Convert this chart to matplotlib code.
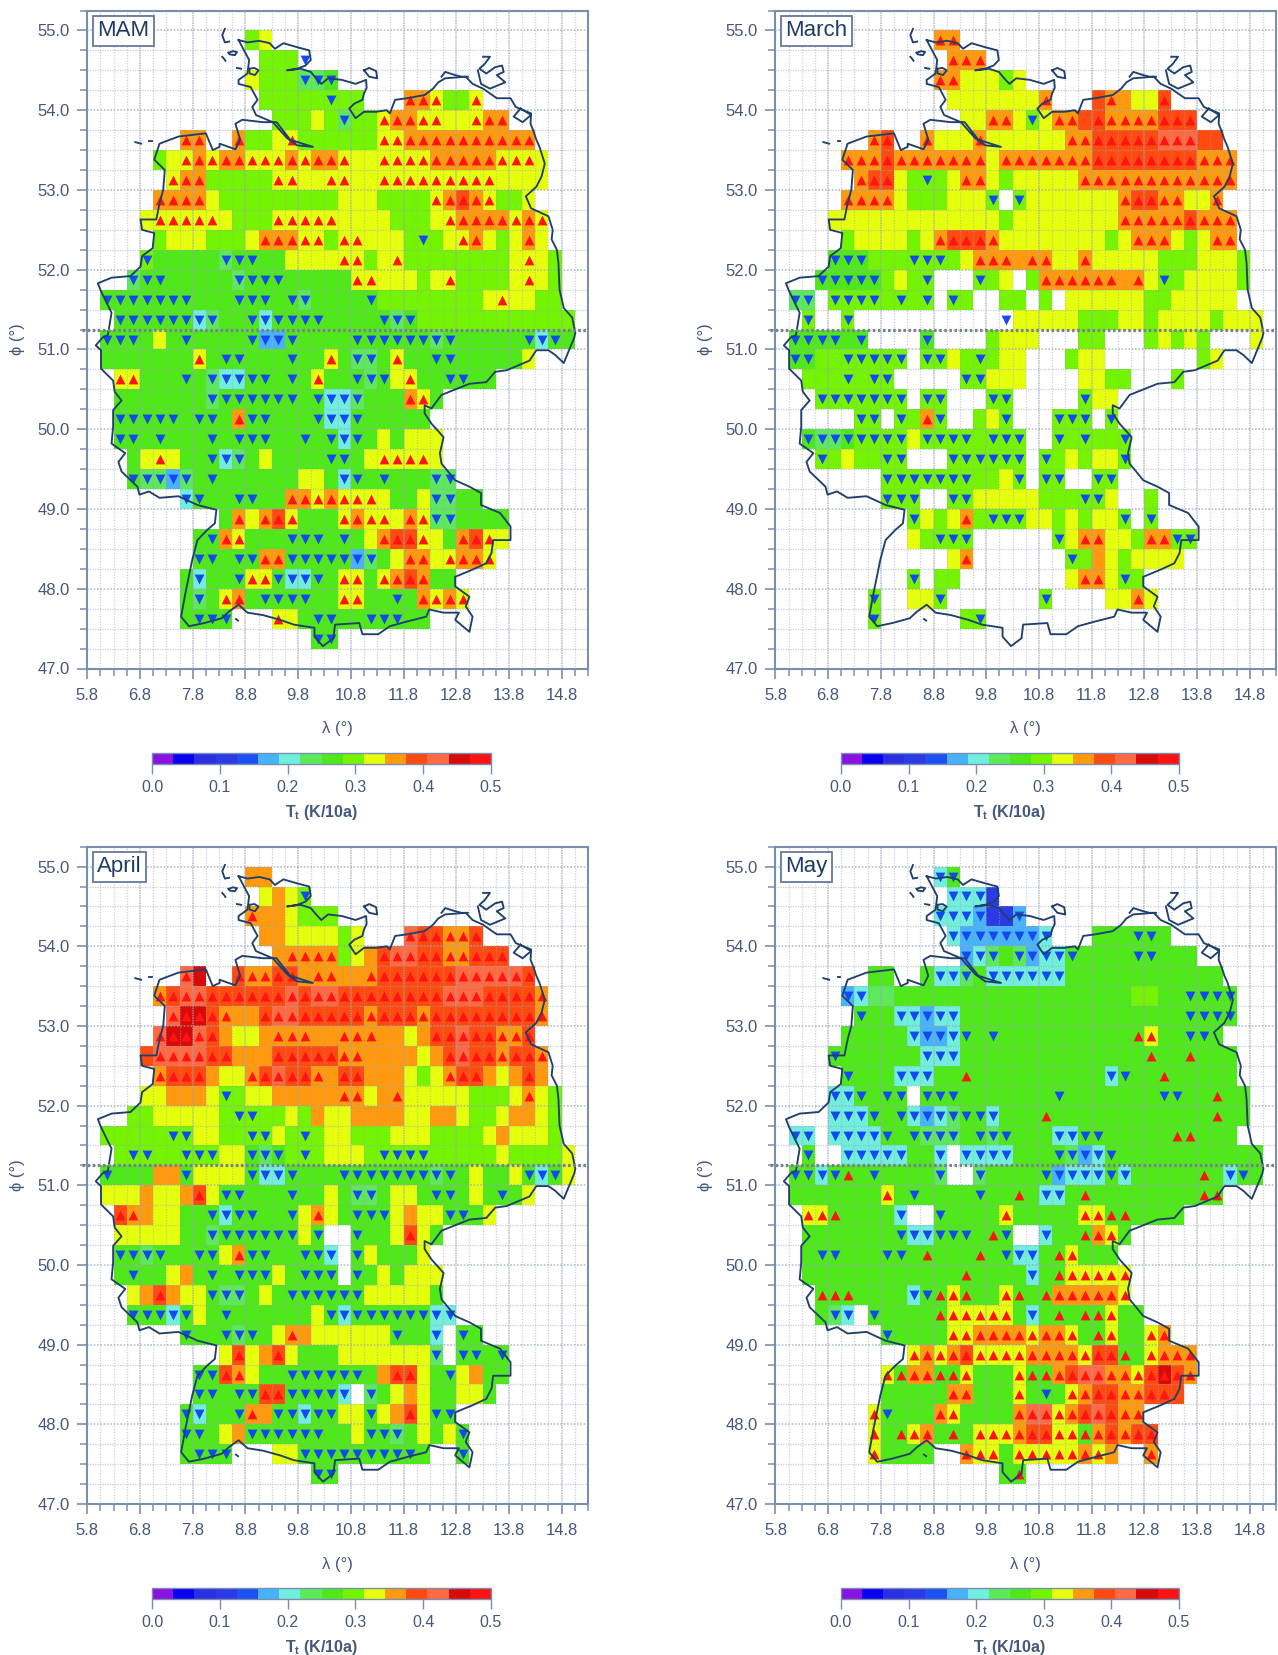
# -*- coding: utf-8 -*-
# spring temperature trends on a 0.25 degree grid, four panels
import numpy as np
import matplotlib
matplotlib.use("Agg")
import matplotlib.pyplot as plt
from matplotlib.colors import ListedColormap, BoundaryNorm
from matplotlib.cm import ScalarMappable

plt.rcParams['font.family'] = ['Liberation Sans', 'DejaVu Sans']
plt.rcParams['mathtext.fontset'] = 'custom'
plt.rcParams['mathtext.bf'] = 'Liberation Sans:bold'
plt.rcParams['mathtext.rm'] = 'Liberation Sans'

# each cell is one hex digit (colour class, 0..f), '.' is empty,
# a following ^ or v is the significance triangle of that cell.
# first = column of the first cell, rows run north to south from 55.0
mam_first = [12, 13, 12, 13, 14, 7, 5, 6, 5, 4, 5, 4, 3, 1, 2, 1, 1, 2, 2, 2, 2, 3, 3, 7, 10, 8, 8, 7, 7, 7, 17]
mam_rows = [
    "9a", "999.v", "a9997v7v8v", "999999v99...b^b^a^99a^", "999a97v99a^b^b^a^a^aaa^b^b^",
    "b^b^..b^99aa^999999a^a^b^b^b^b^b^b^b^b^b^b^",
    "9aa^b^a^b^b^a^a^a^b^a^b^b^a^aaa^a^a^a^b^b^b^b^b^a^a^a^a",
    "a^b^b^99999a^a^aaa^a^aaa^a^a^a^a^a^a^a^a^aaaa",
    "b^b^b^b^a999999999aaa9999a^b^c^b^a^99a",
    "aa^a^a^a^a^a999a^a^a^a^a^aaaa999aa^b^b^b^b^a^b^a^",
    "9aaa999ab^b^b^a^a^9a^a^aaa99v9aa^b^a9ab^a",
    "9v888887v8v8v88aaaaa^a^9aa^99999999aa^a9",
    "7v8v8v888887v8v8v8v88888a^a^aaa9aa^9999aa^a9",
    "8v8v8v8v8v8v8v8888v8v8v88v7v88888v99999999aa^aa99",
    "8v8v8v8v8v8v6v7v888v6v8v8v8v8v88888v7v8v999999999999",
    "8v8v8v8a88v88888v5v5v8v88888v8v8v8v8v8v7v8v888888v6v8v8",
    "8888888a^88v8v8888v88a^87v7v8a^888v8v88888a",
    "a^a^8888v87v6v6v8v8v88v8a^888v7v8vaa^888v8v88",
    "88888887v8v8v8v8v8v8v88v6v6v7v888b^a^8",
    "8v8v8v8v8v88v8v8b^8v8v8888v6v6v8v88888",
    "8v8v88v8888v88v8v8v888v88v6v8v8a8aaa",
    "8aa^a888v6v7v8a88888v8v8aa^a^a^a^a",
    "8v7v7v5v7v88v888888aa86v8v88v8887v7v",
    "6v8v888v8v88b^b^a^b^a^a^a^a88a7v7v88",
    "8b^ab^c^a^888a^b^a^a^ab^a^7v7v8888",
    "88vb^a^8888v8v8v88v8ab^c^c^a^a8b^c^a^a",
    "8v8v88v8vb^b^8v8v8v8v8v5v7v8ab^b^aa^b^b^a^",
    "86v888va^a^8v6v6v8v8a^a^8a^b^c^b^88",
    "87v8a^b^88v8v8v8v88a^a^888v8b^a^b^a^",
    "88v8v8v...a^a88v8v888v8v8v88",
    "8v8v",
]

mar_first = [12, 13, 12, 13, 14, 7, 5, 6, 5, 4, 5, 4, 3, 1, 2, 1, 1, 2, 3, 6, 2, 3, 8, 8, 10, 10, 13, 10, 7, 7]
mar_rows = [
    "b^b^", "b^b^b^", "b^b^aaa9a", "aaaaaaab^...cb^baac^", "aab^b^a9vab^b^cc^b^b^b^b^c^c^c^",
    "b^c^..b^aaab^aaaaaab^b^c^c^c^c^c^d^d^d^cc",
    "b^b^b^c^b^b^b^b^b^b^b^ab^b^b^b^b^b^b^c^c^c^c^c^c^c^c^b^b^b^",
    "b^c^c^a99v9ab^b^a9aaaaab^b^b^b^b^b^b^b^b^b^b^b^",
    "b^b^b^b^a999aaa9v.9vaaaaaaab^c^c^b^b^aab^",
    "aaaaaaaaaaaaa9aaaaaaaab^b^b^b^b^c^b^b^b^",
    "9aaaa9ab^c^c^c^b^aaaaaaaa9ab^b^b^a9ab^b^",
    "8v8v8v9999v9v9v9ab^b^b^bb^b^aab^aaaaa999aaa9",
    "8v8v8v8v8v9a99v...9v9a.9b^b^b^b^b^b^bb^a9v9aaaa9",
    "7v7v.9v9v9v9v99v99v.9v9..99.9.aaaaaa99aaaaa",
    "9v..9v............vaaaaa999aa9aaaa9aaa",
    "8v8v8v8v88v....8v....9aaa...99...9a9a9...a",
    "8v8v999v9v9v9v9v.9v9va99v9aa...9aa.......9a",
    "9999v99v9v.....9v9vaaa....aa99...9",
    "9v9v9v9v9v9v9v.9v9v...9v9v.....9vaa",
    "9v9v.9v9b^9v..9a9v...9v9v9v.9v",
    "8v7v7v8v9v9v9v9va9v9v9v9v99v9v9v..9v99v999v",
    "9v9a999v9v...9v9v9v9v9v9v.9v9a9aa9v",
    "9v9v9v9v9v9v9v99a9v.9v9v..9v9v",
    "9v9v9v..9v9vaaaaa9999v9va..9",
    "9va9ab^99v9v9vaa9a9aa9v.9v",
    "a99v9v9v......9vab^b^aa9b^b^9v9v",
    "ab^.......9v9ba9aaaa",
    "9v.99........ab^b^a9v9",
    "9v..aa9v.......9v....aab^a",
    "9v......99v",
]

apr_first = [12, 13, 12, 13, 14, 7, 5, 6, 5, 4, 5, 4, 3, 1, 2, 1, 1, 2, 2, 2, 2, 3, 3, 7, 10, 8, 8, 7, 7, 7, 17]
apr_rows = [
    "bb", "aba9v", "b^bba999", "bbaaaa9a...d^c^c^b^b^c^", "bb^b^b^b^9abc^d^d^c^c^b^b^c^c^c^",
    "d^e..c^b^b^c^c^bb^b^bbb^c^c^c^c^c^c^d^d^d^d^d^c^",
    "b^c^d^d^c^c^c^c^c^c^d^c^d^d^c^c^c^c^c^c^c^c^d^d^d^c^c^c^c^b^",
    "d^e^e^c^b^bbc^d^d^c^c^c^c^c^b^c^c^c^b^c^c^c^c^c^c^c^c^b^",
    "d^e^e^d^c^baabb^b^b^bbb^b^b^bbabc^c^d^c^c^b^b^c^",
    "cd^d^d^d^c^c^bbbc^c^c^c^c^b^b^bbbbabc^d^c^c^b^c^c^b^",
    "b^c^c^c^baab^c^d^c^c^b^bc^c^bbba9ab^c^c^babc^b",
    "aabbba9v9aabbbbbb^b^abb^aaaaa999ab^a9",
    "99aaaaa99v9v99a9baabbbbaabba99abba9",
    "999999v9vaa999v9va99v9aa999aaa9999abaaa9",
    "99v9v999v9v9vaa8v7v8v99v9aaa99v9v9v9v99999a9999a",
    "8v888bb8vaaaa8v6v6v8v8888v8v8v8v8v8v8v7v8v8a88a8v6v8va",
    "aaabaabc^a8v8v8888v88a87v7v8aa88v8v8a88v8a",
    "c^b^baa888v6v8v8v888vab^a88v8v8vabaa8v8v8a",
    "aaaaa887v8v8v8v8v8v8va8v..8v88ac^a8",
    "8v8v7v8v888v8vab^8v8v888v8v6v.8va888a",
    "88v88ab88v88v8v8va88v8v8v.8v8a8aaa",
    "abc^baa8v7v7v8a88v8v8v8v8v8vaaaaa8",
    "8v8v8v6v8va88v888888a8v6v8v8v8v8v8v8v6v6v",
    "8v888v7v8v8ab^baaaaaa8v886v.8v8",
    "ac^abc^a888aaaaaaa7v.8v8v88v",
    "8v8vc^b^a888v8v8v8v8v8v8bc^c^a88vab88",
    "8v8v88v8vc^c^8v8v8v8v6v.7v8aba88aa8",
    "8v6v888vb^b8v8v6v8v8vaa8vabc^a8v8v",
    "8v8v8ab8v8v8v8v8v8v88a8v8v7v8a8a8v",
    "88v8v8v...aa8v8v8v8v8v8v8v8v8v8..8v",
    "8v8v",
]

may_first = [12, 13, 12, 13, 14, 7, 5, 6, 5, 4, 5, 4, 4, 1, 2, 1, 1, 2, 2, 2, 2, 3, 3, 8, 10, 8, 8, 7, 7, 7, 17]
may_rows = [
    "6v8v", "6v6v6v3", "6v6v6v5v335v", "6v5v5v5v5v5v5v6v...8888v8v8", "5v6v7v87v5v6v6v8v88888v8v888",
    "88..86v6v7v86v6v6v6v6v6v888888888888",
    "5v6v778888888888888888889988" + "8v8v8v8v",
    "8v886v6v5v6v6v888888888888888888v8v8v8v",
    "888886v5v5v6v8v88v88888888888^a^888v8v8",
    "8v8888886v6v6v888888888888888^888^888",
    "8v8886v6v6v888^88888888886v8v888^88888",
    "6v6v8v88v8v.8v8v8v88888888v88888888v8v888^88",
    "6v6v6v8v88v6v5v6v7v8v8v6v8888^8888888888888^88",
    "6v6v.6v6v6v6v8v88v7v7v7v88v7v8v8886v6v8v8v888888^8^888",
    "8v..6v6v6v6v6v886v.6v6v6v6v8888v7v5v6v8v88888888888",
    "8v8v6v8v8^88v88887v..7v88888v5v6v6v6v8v6v888888^86v8v8",
    "8888888a^88v88888v888^86v6v88^888888888^8^",
    "a^a^8^88886v..8v8888a^88888a^a^8^8^8888",
    "88888888v6v6v8v8v8v88^8v..6v888^b^a^8",
    "88v8v8888v8v88^8888^88v6v6v88^a^888",
    "8888888888888^88886v88^a^a^a^a^a^",
    "8^8^8^88886v8v8^a^8^88a^8^88^b^b^b^b^b^a^",
    "87v6v.8v88888^a^a^a^a^a^86v88^88^8^a^88",
    "8v8888a^a^b^b^b^b^a^b^b^a^88^a^88a^b^",
    "a^b^a^b^c^a^a^a^a^b^b^b^b^a^c^c^8^8a^b^b^b^",
    "a^8^b^b^8^8^a^888a^8^8^b^c^d^d^b^b^a^c^e^c^b^",
    "88888b^b^888a^88v8a^b^c^c^b^b^c^c^c",
    "a^8v888b^a^8888b^d^d^a^b^c^d^c^b^b^",
    "a^88^a^b^88^8a^a^a^b^c^c^a^a^8^b^c^b^c^c^",
    "a^8888..b^a^a^8a^a^a^a^a^b^a^b..b^",
    "88^",
]

# colour classes of the bar, 16 steps from 0.0 to 0.5
class_colors = ['#8a12e0', '#0a00ee', '#2a2fe2', '#2c3ae6', '#1c50f2', '#48b2fa', '#72eedd', '#5ee85c',
                '#4fe818', '#74f400', '#e6ff0c', '#ff9a0e', '#ff4a10', '#ff6a42', '#d80a0a', '#ff1212']
bar_ticks = [0.0, 0.1, 0.2, 0.3, 0.4, 0.5]

coast_lon = [8.67, 8.84, 9.06, 9.26, 9.36, 9.52, 9.78, 10.01, 10.04, 9.94, 9.78, 9.59, 9.85, 10.04, 10.14, 10.24,
             10.37, 10.63, 10.89, 11.09, 11.10, 11.05, 11.02, 10.86, 10.77, 10.89, 11.05, 11.28, 11.48, 11.54, 11.64,
             11.87, 12.20, 12.36, 12.46, 12.59, 12.98, 13.11, 13.31, 13.57, 13.83, 13.93, 14.22, 14.21, 14.27, 14.32,
             14.38, 14.48, 14.42, 14.32, 14.12, 14.22, 14.55, 14.63, 14.61, 14.71, 14.74, 14.76, 14.84, 15.00, 15.06,
             15.04, 14.94, 14.84, 14.68, 14.55, 14.32, 14.19, 13.76, 13.54, 13.37, 13.05, 12.52, 12.33, 12.20, 12.20,
             12.33, 12.56, 12.49, 12.52, 12.78, 13.05, 13.27, 13.27, 13.63, 13.83, 13.83, 13.50, 13.47, 13.37, 13.11,
             12.78, 12.78, 13.05, 12.98, 13.11, 13.05, 12.78, 12.85, 12.56, 12.29, 12.23, 11.87, 11.54, 11.32, 11.02,
             10.96, 10.50, 10.47, 10.27, 10.11, 10.11, 9.72, 9.46, 9.13, 8.84, 8.67, 8.48, 8.35, 8.02, 7.73, 7.58,
             7.66, 7.79, 7.89, 8.08, 8.22, 8.25, 7.89, 7.53, 7.17, 6.97, 6.79, 6.75, 6.45, 6.39, 6.52, 6.26, 6.29,
             6.29, 6.45, 6.32, 6.29, 6.06, 6.06, 5.96, 6.09, 6.19, 6.26, 6.06, 6.00, 6.26, 6.62, 6.81, 6.84, 7.04,
             7.07, 6.84, 6.81, 7.11, 7.17, 7.24, 7.27, 7.07, 7.17, 7.53, 8.05, 8.18, 8.31, 8.31, 8.61, 8.70, 8.61,
             8.74, 9.13, 9.39, 9.65, 10.08, 9.78, 9.59, 9.32, 9.00, 8.93, 9.03, 8.90, 8.67, 8.67, 8.84, 8.87, 8.67]
coast_lat = [54.88, 54.85, 54.87, 54.84, 54.77, 54.84, 54.79, 54.75, 54.63, 54.56, 54.52, 54.50, 54.52, 54.48, 54.40, 54.33,
             54.40, 54.38, 54.33, 54.38, 54.28, 54.21, 54.13, 54.08, 54.02, 53.90, 53.98, 53.98, 54.00, 53.96, 54.13,
             54.15, 54.19, 54.27, 54.35, 54.40, 54.42, 54.33, 54.27, 54.15, 54.15, 54.04, 53.96, 53.83, 53.73, 53.63,
             53.54, 53.33, 53.17, 53.04, 52.92, 52.77, 52.67, 52.50, 52.38, 52.25, 52.08, 51.75, 51.52, 51.40, 51.21,
             51.15, 50.99, 50.83, 50.93, 50.99, 50.99, 50.86, 50.74, 50.72, 50.59, 50.57, 50.43, 50.26, 50.30, 50.20,
             50.07, 49.90, 49.70, 49.57, 49.36, 49.28, 49.20, 49.05, 48.95, 48.78, 48.61, 48.61, 48.45, 48.32, 48.24,
             48.15, 48.03, 47.90, 47.78, 47.65, 47.46, 47.61, 47.70, 47.70, 47.74, 47.65, 47.59, 47.53, 47.43, 47.43,
             47.57, 47.55, 47.38, 47.28, 47.40, 47.51, 47.55, 47.61, 47.67, 47.70, 47.80, 47.71, 47.63, 47.57, 47.53, 47.65,
             47.94, 48.36, 48.61, 48.74, 48.82, 48.99, 49.05, 49.16, 49.14, 49.22, 49.18, 49.28, 49.47, 49.59, 49.70, 49.82,
             50.03, 50.24, 50.36, 50.47, 50.61, 50.76, 50.99, 51.05, 51.15, 51.18, 51.46, 51.73, 51.83, 51.90, 51.92, 52.04,
             52.17, 52.27, 52.46, 52.50, 52.63, 52.63, 52.83, 53.00, 53.25, 53.38, 53.58, 53.67, 53.71, 53.50, 53.54, 53.58,
             53.51, 53.63, 53.83, 53.88, 53.85, 53.85, 53.63, 53.54, 53.56, 53.65, 53.85, 53.94, 54.04, 54.13, 54.29, 54.33,
             54.38, 54.46, 54.63, 54.88]
islands = [
    ([8.41, 8.36, 8.41, 8.49], [55.02, 54.94, 54.85, 54.86]),
    ([8.48, 8.56, 8.64, 8.60, 8.50, 8.48], [54.72, 54.74, 54.73, 54.69, 54.70, 54.72]),
    ([8.36, 8.40, 8.42], [54.67, 54.64, 54.62]),
    ([8.64, 8.72], [54.53, 54.52]),
    ([8.87, 8.97, 9.05, 8.98, 8.88, 8.87], [54.52, 54.53, 54.50, 54.44, 54.46, 54.52]),
    ([11.05, 11.15, 11.28, 11.30, 11.15, 11.05], [54.50, 54.53, 54.49, 54.40, 54.42, 54.50]),
    ([6.71, 6.82], [53.60, 53.58]),
    ([6.98, 7.02], [53.62, 53.62]),
    ([13.31, 13.44, 13.34, 13.24, 13.37, 13.54, 13.67, 13.70, 13.57, 13.73, 13.44, 13.27, 13.21],
     [54.67, 54.67, 54.58, 54.52, 54.46, 54.54, 54.56, 54.48, 54.44, 54.35, 54.27, 54.33, 54.50]),
    ([12.52, 12.59, 12.78, 12.90, 13.02], [54.42, 54.48, 54.44, 54.42, 54.42]),
    ([14.02, 14.22, 14.06, 13.89, 14.02], [54.02, 53.94, 53.85, 53.92, 54.02]),
    ([8.62, 8.66], [47.62, 47.60]),
]

W, H = 1278.0, 1655.0
CELL = 0.25
LON0 = 5.8
LAT_TOP = 55.0
GRID = '#98a5b8'
AXC = '#7a8fb0'
TXT = '#45587a'

cmap = ListedColormap(class_colors)
norm = BoundaryNorm(np.linspace(0, 0.5, 17), 16)


def px_axes(left, top, right, bottom):
    return plt.gcf().add_axes([left / W, 1 - bottom / H, (right - left) / W, (bottom - top) / H])


def parse(first, rows):
    values = np.full((len(rows), 38), np.nan)
    ups = []
    downs = []
    for r, row in enumerate(rows):
        i = first[r] - 1
        for ch in row:
            if ch == '^':
                ups.append((i, r))
            elif ch == 'v':
                downs.append((i, r))
            else:
                i += 1
                if ch != '.':
                    values[r, i] = (int(ch, 16) + 0.5) / 32
    return values, ups, downs


def panel(box, name, first, rows, bar_box):
    ax = px_axes(*box)
    values, ups, downs = parse(first, rows)
    lons = LON0 + CELL * np.arange(39)
    lats = LAT_TOP - CELL * np.arange(len(rows) + 1)
    ax.pcolormesh(lons, lats, np.ma.masked_invalid(values), cmap=cmap, norm=norm, zorder=1)

    ax.set_xlim(5.8, 15.3)
    ax.set_ylim(47.0, 55.25)
    ax.set_xticks(np.arange(5.8, 15.0, 1.0))
    ax.set_xticks(np.arange(5.8, 15.31, 0.25), minor=True)
    ax.set_yticks(np.arange(47.0, 55.1, 1.0))
    ax.set_yticks(np.arange(47.0, 55.26, 0.25), minor=True)
    ax.set_xticklabels(['%.1f' % v for v in np.arange(5.8, 15.0, 1.0)])
    ax.set_yticklabels(['%.1f' % v for v in np.arange(47.0, 55.1, 1.0)])
    ax.tick_params(which='major', length=7.5, width=1.2, color=AXC, labelcolor=TXT, labelsize=12, pad=5)
    ax.tick_params(axis='x', which='major', pad=6.5)
    ax.tick_params(which='minor', length=5, width=1.1, color=AXC)
    for s in ax.spines.values():
        s.set_color(AXC)
        s.set_linewidth(1.5)
        s.set_zorder(6)

    # grid over the cells
    for v in np.arange(5.8, 15.31, 0.25):
        major = abs((v - 5.8) % 1.0) < 1e-6
        ax.axvline(v, color=GRID, lw=1.2 if major else 0.9, ls=(0, (1, 0.5)) if major else (0, (1, 1.2)),
                   alpha=0.65 if major else 0.5, zorder=2)
    for v in np.arange(47.0, 55.26, 0.25):
        major = abs(v % 1.0) < 1e-6
        ax.axhline(v, color=GRID, lw=1.2 if major else 0.9, ls=(0, (1, 1)), alpha=0.7 if major else 0.55, zorder=2)

    if ups:
        u = np.array(ups, dtype=float)
        ax.scatter(LON0 + CELL * (u[:, 0] + 0.5), LAT_TOP - CELL * (u[:, 1] + 0.5), marker='^', s=50,
                   color='#ff1414', linewidths=0, zorder=3)
    if downs:
        d = np.array(downs, dtype=float)
        ax.scatter(LON0 + CELL * (d[:, 0] + 0.5), LAT_TOP - CELL * (d[:, 1] + 0.5), marker='v', s=50,
                   color='#1449ee', linewidths=0, zorder=3)

    ax.plot(coast_lon, coast_lat, color='#20406b', lw=1.35, zorder=4, solid_joinstyle='round')
    for isl_lon, isl_lat in islands:
        ax.plot(isl_lon, isl_lat, color='#20406b', lw=1.35, zorder=4)

    # 51.25 reference line
    ax.plot([5.7, 15.27], [51.25, 51.25], color='#76848a', lw=2.3, ls=(0, (0.8, 0.8)), clip_on=False, zorder=5)

    ax.set_xlabel('λ (°)', color=TXT, fontsize=12, labelpad=13)
    ax.set_ylabel('ϕ (°)', color=TXT, fontsize=12, labelpad=9)
    ax.text(0.02, 0.9695, name, transform=ax.transAxes, ha='left', va='center', fontsize=16, color='#1f3c63',
            zorder=7, bbox=dict(boxstyle='square,pad=0.2', fc='white', ec='#66789a', lw=1.3))

    cax = px_axes(*bar_box)
    sm = ScalarMappable(norm=norm, cmap=cmap)
    cb = plt.gcf().colorbar(sm, cax=cax, orientation='horizontal', ticks=bar_ticks, spacing='proportional',
                            drawedges=False)
    cb.ax.minorticks_off()
    cb.ax.set_xticklabels(['%.1f' % v for v in bar_ticks])
    cb.ax.tick_params(length=7.5, width=1.0, color=AXC, labelcolor=TXT, labelsize=11.5, pad=4)
    cb.outline.set_edgecolor(AXC)
    cb.outline.set_linewidth(1.0)
    cb.set_label(r'T$_{\mathbf{t}}$ (K/10a)', color=TXT, fontsize=11.5, fontweight='bold', labelpad=6)
    return ax


fig = plt.figure(figsize=(W / 100, H / 100), dpi=100, facecolor='white')

panel((87.3, 10.5, 588.0, 668.5), 'MAM', mam_first, mam_rows, (152.0, 753.0, 491.0, 764.0))
panel((775.4, 10.5, 1276.1, 668.5), 'March', mar_first, mar_rows, (841.0, 753.0, 1178.7, 764.0))
panel((87.3, 846.7, 588.0, 1504.0), 'April', apr_first, apr_rows, (152.0, 1588.0, 491.0, 1599.0))
panel((775.4, 846.7, 1276.1, 1504.0), 'May', may_first, may_rows, (841.0, 1588.0, 1178.7, 1599.0))

fig.savefig('out.png', dpi=100)
